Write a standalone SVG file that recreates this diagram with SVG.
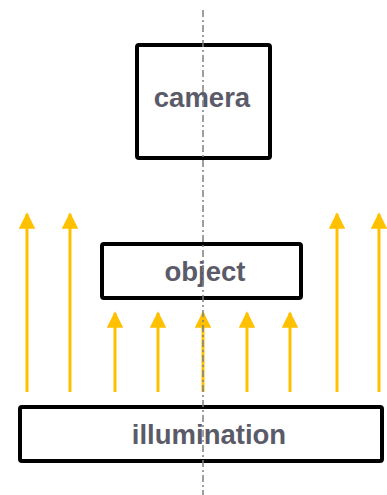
<svg xmlns="http://www.w3.org/2000/svg" width="387" height="495" viewBox="0 0 387 495">
<defs>
<style>
.box{fill:#fff;stroke:#000;stroke-width:4}
.lbl{font-family:"Liberation Sans",Arial,sans-serif;font-weight:bold;font-size:27.5px;fill:#5a5a68;text-anchor:middle}
.ray{stroke:#FFC000;stroke-width:3;fill:none}
.axis{stroke:#7f7f7f;stroke-width:1.5;stroke-dasharray:7 3 2 3;fill:none}
</style>
<marker id="ah" viewBox="0 0 10 10" refX="9" refY="5" markerWidth="5.5" markerHeight="5.5" markerUnits="strokeWidth" orient="auto">
<path d="M0,0 L10,5 L0,10 z" fill="#FFC000"/>
</marker>
</defs>
<g id="camera"><rect class="box" x="137" y="45" width="133" height="113" rx="2"/><text class="lbl" x="202" y="107">camera</text></g>
<g id="object"><rect class="box" x="102" y="244" width="199" height="54" rx="2"/><text class="lbl" x="205" y="281">object</text></g>
<g id="illumination"><rect class="box" x="20" y="407" width="362" height="54" rx="2"/><text class="lbl" x="209" y="444">illumination</text></g>
<g id="connectors">
<line class="ray" x1="27" y1="392" x2="27" y2="214" marker-end="url(#ah)"/>
<line class="ray" x1="70" y1="392" x2="70" y2="214" marker-end="url(#ah)"/>
<line class="ray" x1="337" y1="392" x2="337" y2="214" marker-end="url(#ah)"/>
<line class="ray" x1="379" y1="392" x2="379" y2="214" marker-end="url(#ah)"/>
<line class="ray" x1="115" y1="392" x2="115" y2="313" marker-end="url(#ah)"/>
<line class="ray" x1="158" y1="392" x2="158" y2="313" marker-end="url(#ah)"/>
<line class="ray" x1="203" y1="392" x2="203" y2="313" marker-end="url(#ah)"/>
<line class="ray" x1="247" y1="392" x2="247" y2="313" marker-end="url(#ah)"/>
<line class="ray" x1="290" y1="392" x2="290" y2="313" marker-end="url(#ah)"/>
</g>
<line class="axis" x1="203" y1="10" x2="203" y2="495"/>
</svg>
